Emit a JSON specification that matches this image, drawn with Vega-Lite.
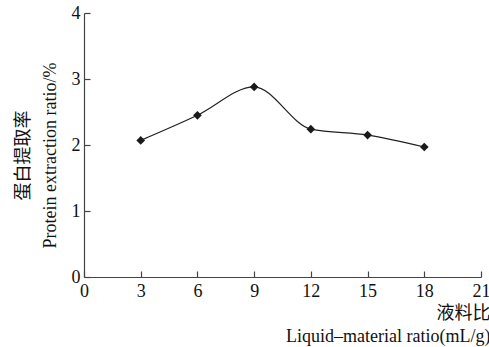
{
  "$schema": "https://vega.github.io/schema/vega-lite/v6.json",
  "width": 397,
  "height": 264,
  "autosize": {"type": "none"},
  "padding": {"left": 84, "top": 13, "right": 8, "bottom": 70},
  "background": "white",
  "config": {
    "view": {"stroke": null},
    "axis": {
      "grid": false,
      "domainColor": "#444",
      "domainWidth": 1.2,
      "tickColor": "#444",
      "tickWidth": 1.2,
      "tickSize": -6,
      "labelFont": "Liberation Serif",
      "labelFontSize": 18,
      "labelColor": "#111",
      "titleFont": "Liberation Serif, Noto Sans CJK SC",
      "titleFontSize": 18,
      "titleFontWeight": "normal",
      "titleColor": "#111"
    }
  },
  "data": {
    "values": [
      {"ratio": 3, "yield": 2.07},
      {"ratio": 6, "yield": 2.45},
      {"ratio": 9, "yield": 2.88},
      {"ratio": 12, "yield": 2.24},
      {"ratio": 15, "yield": 2.15},
      {"ratio": 18, "yield": 1.97}
    ]
  },
  "encoding": {
    "x": {
      "field": "ratio",
      "type": "quantitative",
      "scale": {"domain": [0, 21], "nice": false},
      "axis": {
        "values": [0, 3, 6, 9, 12, 15, 18, 21],
        "labelPadding": 11,
        "labelFlush": false,
        "title": ["液料比", "Liquid–material ratio(mL/g)"],
        "titleAnchor": "end",
        "titleAlign": "right",
        "titleBaseline": "top",
        "titleX": 406,
        "titleY": 27,
        "titleLineHeight": 23
      }
    },
    "y": {
      "field": "yield",
      "type": "quantitative",
      "scale": {"domain": [0, 4], "nice": false},
      "axis": {
        "values": [0, 1, 2, 3, 4],
        "labelPadding": 10,
        "labelFlush": false,
        "title": ["蛋白提取率", "Protein extraction ratio/%"],
        "titleAngle": -90,
        "titleAlign": "center",
        "titleBaseline": "middle",
        "titleX": -61,
        "titleY": 142,
        "titleLineHeight": 27
      }
    }
  },
  "layer": [
    {
      "mark": {"type": "line", "interpolate": "monotone", "color": "#222", "strokeWidth": 1.2}
    },
    {
      "mark": {"type": "point", "shape": "diamond", "filled": true, "size": 75, "color": "#1a1a1a", "opacity": 1}
    }
  ]
}
